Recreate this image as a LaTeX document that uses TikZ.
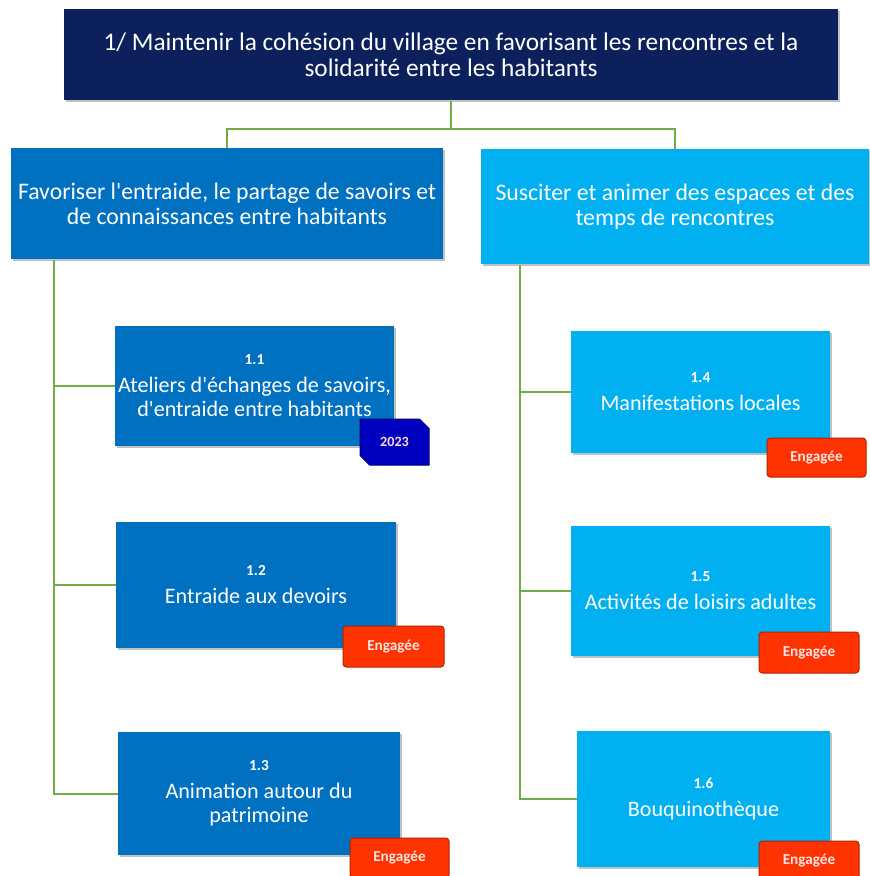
\documentclass[tikz,border=0pt]{standalone}
\usepackage{fontspec}
\setmainfont{Carlito}
\usetikzlibrary{shadows,shapes.misc}

\definecolor{navyTitle}{RGB}{12,33,92}
\definecolor{blueA}{RGB}{0,112,192}
\definecolor{blueB}{RGB}{0,176,240}
\definecolor{linkGreen}{RGB}{112,173,71}
\definecolor{tagRed}{RGB}{255,51,0}
\definecolor{tagBlue}{RGB}{0,0,192}

\tikzset{every picture/.style={line width=0.75pt}}
\tikzset{
  box/.style={rectangle, text=white, align=center, inner sep=2pt,
    drop shadow={shadow xshift=1.5pt, shadow yshift=-1.5pt, opacity=0.35, fill=black!70}},
  titlebox/.style={box, fill=navyTitle, font=\fontsize{19}{19.5}\selectfont},
  goalbox/.style={box, font=\fontsize{17.8}{18.8}\selectfont},
  leafbox/.style={box, font=\fontsize{16.6}{18}\selectfont},
  tagbox/.style={rectangle, rounded corners=2.5pt, fill=tagRed, draw=tagRed!70!black,
    text=white!90!red, font=\bfseries\fontsize{11.4}{12}\selectfont},
  yearbox/.style={chamfered rectangle, chamfered rectangle corners={north east,south west},
    chamfered rectangle xsep=4pt, fill=tagBlue, draw=tagBlue!60!black,
    text=white!85!red, font=\bfseries\fontsize{10.6}{12}\selectfont},
  link/.style={draw=linkGreen, line width=1.5pt},
}
\newcommand{\numtag}[1]{{\bfseries\fontsize{11.5}{12}\selectfont #1}\\[3pt]}
\newcommand{\apos}{\textquotesingle}

\begin{document}
\begin{tikzpicture}[x=0.75pt,y=0.75pt,yscale=-1,xscale=1]
\useasboundingbox (0,0) rectangle (869,876);

%Shape: Title box
\node [titlebox, minimum width=580.5pt, minimum height=68.25pt] (title) at (451,54.5)
  {1/ Maintenir la cohésion du village en favorisant les rencontres et la\\ solidarité entre les habitants};

%Shape: Goal boxes
\node [goalbox, fill=blueA, minimum width=324pt, minimum height=83.25pt] (goalA) at (227,203.5)
  {Favoriser l\apos entraide, le partage de savoirs et\\ de connaissances entre habitants};
\node [goalbox, fill=blueB, minimum width=291pt, minimum height=86.25pt] (goalB) at (675,206.5)
  {Susciter et animer des espaces et des\\ temps de rencontres};

%Shape: Leaf boxes, left column
\node [leafbox, fill=blueA, minimum width=207.75pt, minimum height=90pt] (leaf11) at (254.5,386)
  {\numtag{1.1}Ateliers d\apos échanges de savoirs,\\ d\apos entraide entre habitants};
\node [leafbox, fill=blueA, minimum width=210pt, minimum height=94.5pt] (leaf12) at (256,585)
  {\numtag{1.2}Entraide aux devoirs};
\node [leafbox, fill=blueA, minimum width=211.5pt, minimum height=92.25pt] (leaf13) at (259,793.5)
  {\numtag{1.3}Animation autour du\\ patrimoine};

%Shape: Leaf boxes, right column
\node [leafbox, fill=blueB, minimum width=194.25pt, minimum height=91.5pt] (leaf14) at (700.5,392)
  {\numtag{1.4}Manifestations locales};
\node [leafbox, fill=blueB, minimum width=194.25pt, minimum height=97.5pt] (leaf15) at (700.5,591)
  {\numtag{1.5}Activités de loisirs adultes};
\node [leafbox, fill=blueB, minimum width=189.75pt, minimum height=102pt] (leaf16) at (703.5,799)
  {\numtag{1.6}Bouquinothèque};

%Connector lines
\draw [link] (title.south) -- ++(0,28) coordinate (fork);
\draw [link] (fork) -| (goalA.north);
\draw [link] (fork) -| (goalB.north);

\coordinate (spineA) at (54,0);
\coordinate (spineB) at (520,0);
\draw [link] (spineA |- goalA.south) |- (leaf13.west);
\draw [link] (spineA |- leaf11.west) -- (leaf11.west);
\draw [link] (spineA |- leaf12.west) -- (leaf12.west);
\draw [link] (spineB |- goalB.south) |- (leaf16.west);
\draw [link] (spineB |- leaf14.west) -- (leaf14.west);
\draw [link] (spineB |- leaf15.west) -- (leaf15.west);

%Badges
\node [yearbox, minimum width=51.75pt, minimum height=34.5pt] (year11) at (394.5,442) {2023};
\node [tagbox, minimum width=75.75pt, minimum height=30.75pt] (tag12) at (393.5,646.5) {Engagée};
\node [tagbox, minimum width=74.25pt, minimum height=30pt] (tag13) at (399.5,858) {Engagée};
\node [tagbox, minimum width=74.25pt, minimum height=29.25pt] (tag14) at (816.5,457.5) {Engagée};
\node [tagbox, minimum width=75pt, minimum height=30.75pt] (tag15) at (809,652.5) {Engagée};
\node [tagbox, minimum width=75pt, minimum height=30pt] (tag16) at (809,861) {Engagée};

\end{tikzpicture}
\end{document}
